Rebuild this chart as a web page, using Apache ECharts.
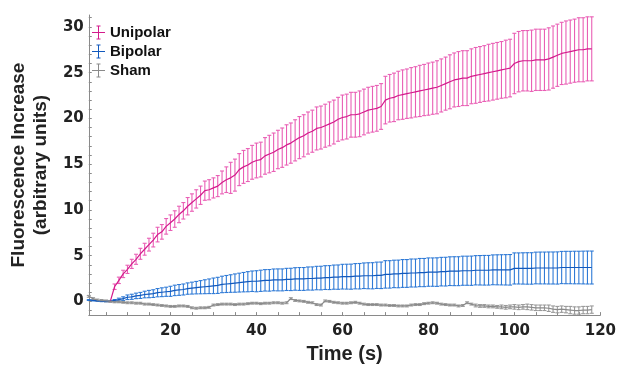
<!DOCTYPE html>
<html>
<head>
<meta charset="utf-8">
<script src="https://cdn.jsdelivr.net/npm/echarts@6/dist/echarts.min.js"></script>
<style>
  html, body { margin: 0; padding: 0; background: #fff; }
  #chart { width: 619px; height: 369px; }
</style>
</head>
<body>
<div id="chart"></div>
<script>
// sample times (s), one sample per second
const time = Array.from({ length: 118 }, (_, i) => i + 1);

// Unipolar: recording starts at t = 6 s
const unipolarMean = [
  null, null, null, null, null, 0.0, 1.6, 2.3, 3.0, 3.5,
  4.1, 4.6, 5.2, 5.7, 6.2, 6.7, 7.3, 7.6, 8.2, 8.6,
  9.0, 9.5, 9.9, 10.4, 10.8, 11.2, 11.6, 12.1, 12.2, 12.4,
  12.6, 13.0, 13.3, 13.5, 13.8, 14.4, 14.7, 14.9, 15.2, 15.4,
  15.5, 15.9, 16.1, 16.3, 16.6, 16.8, 17.1, 17.3, 17.6, 17.9,
  18.1, 18.4, 18.6, 18.9, 19.0, 19.2, 19.4, 19.6, 19.9, 20.1,
  20.2, 20.4, 20.4, 20.5, 20.7, 20.9, 21.0, 21.1, 21.3, 22.0,
  22.2, 22.3, 22.5, 22.6, 22.7, 22.8, 22.9, 23.0, 23.1, 23.2,
  23.3, 23.4, 23.6, 23.8, 24.0, 24.2, 24.3, 24.4, 24.4, 24.6,
  24.7, 24.8, 24.9, 25.0, 25.1, 25.2, 25.3, 25.4, 25.5, 26.0,
  26.2, 26.3, 26.3, 26.3, 26.4, 26.4, 26.4, 26.5, 26.7, 26.9,
  27.1, 27.2, 27.3, 27.4, 27.5, 27.5, 27.6, 27.6
];
const unipolarErr = [
  null, null, null, null, null, 0.05, 0.3, 0.35, 0.4, 0.45,
  0.5, 0.55, 0.6, 0.65, 0.7, 0.75, 0.8, 0.8, 0.85, 0.85,
  0.9, 0.9, 0.9, 0.95, 0.95, 1.0, 1.0, 1.05, 1.1, 1.1,
  1.15, 1.25, 1.4, 1.7, 1.75, 1.75, 1.8, 1.8, 1.85, 1.9,
  1.9, 2.0, 2.05, 2.1, 2.1, 2.15, 2.2, 2.2, 2.25, 2.3,
  2.3, 2.3, 2.3, 2.35, 2.35, 2.35, 2.4, 2.4, 2.4, 2.45,
  2.45, 2.45, 2.45, 2.5, 2.5, 2.5, 2.5, 2.5, 2.5, 2.6,
  2.6, 2.65, 2.65, 2.7, 2.7, 2.75, 2.75, 2.8, 2.8, 2.85,
  2.85, 2.9, 2.9, 2.9, 2.95, 2.95, 3.0, 3.0, 3.0, 3.0,
  3.05, 3.05, 3.05, 3.1, 3.1, 3.1, 3.1, 3.15, 3.15, 3.3,
  3.3, 3.3, 3.3, 3.35, 3.35, 3.35, 3.35, 3.4, 3.4, 3.4,
  3.4, 3.45, 3.45, 3.45, 3.5, 3.5, 3.5, 3.5
];

const bipolarMean = [
  0.15, 0.1, 0.05, 0.02, 0.0, 0.0, 0.1, 0.2, 0.3, 0.45,
  0.5, 0.6, 0.65, 0.75, 0.8, 0.85, 0.95, 1.0, 1.05, 1.1,
  1.2, 1.25, 1.3, 1.4, 1.45, 1.5, 1.55, 1.6, 1.65, 1.7,
  1.75, 1.85, 1.9, 1.95, 2.0, 2.05, 2.1, 2.15, 2.2, 2.2,
  2.25, 2.3, 2.3, 2.35, 2.35, 2.35, 2.4, 2.4, 2.45, 2.45,
  2.45, 2.5, 2.5, 2.55, 2.55, 2.6, 2.6, 2.65, 2.65, 2.7,
  2.7, 2.7, 2.75, 2.75, 2.8, 2.8, 2.8, 2.85, 2.85, 2.95,
  2.95, 3.0, 3.0, 3.05, 3.05, 3.1, 3.1, 3.15, 3.15, 3.2,
  3.2, 3.2, 3.25, 3.25, 3.3, 3.3, 3.3, 3.35, 3.35, 3.35,
  3.4, 3.4, 3.4, 3.4, 3.45, 3.45, 3.45, 3.45, 3.45, 3.6,
  3.6, 3.6, 3.6, 3.6, 3.65, 3.65, 3.65, 3.65, 3.65, 3.65,
  3.7, 3.7, 3.7, 3.7, 3.7, 3.7, 3.7, 3.7
];
const bipolarErr = [
  0.05, 0.05, 0.05, 0.05, 0.05, 0.05, 0.1, 0.15, 0.2, 0.25,
  0.28, 0.3, 0.33, 0.36, 0.4, 0.42, 0.45, 0.48, 0.5, 0.55,
  0.57, 0.59, 0.6, 0.62, 0.65, 0.68, 0.72, 0.76, 0.8, 0.85,
  0.88, 0.9, 0.93, 0.96, 1.0, 1.03, 1.06, 1.1, 1.12, 1.15,
  1.16, 1.17, 1.18, 1.19, 1.2, 1.2, 1.21, 1.22, 1.23, 1.25,
  1.25, 1.26, 1.27, 1.28, 1.29, 1.3, 1.31, 1.32, 1.33, 1.35,
  1.36, 1.37, 1.38, 1.39, 1.4, 1.42, 1.43, 1.44, 1.45, 1.5,
  1.5, 1.5, 1.51, 1.52, 1.52, 1.53, 1.53, 1.54, 1.54, 1.55,
  1.55, 1.56, 1.56, 1.57, 1.57, 1.58, 1.58, 1.59, 1.59, 1.6,
  1.6, 1.61, 1.62, 1.62, 1.63, 1.64, 1.65, 1.66, 1.67, 1.7,
  1.7, 1.71, 1.72, 1.72, 1.73, 1.74, 1.74, 1.75, 1.75, 1.76,
  1.76, 1.77, 1.77, 1.78, 1.78, 1.79, 1.8, 1.8
];

const shamMean = [
  0.55, 0.3, 0.15, 0.1, 0.05, 0.0, -0.05, -0.05, -0.1, -0.15,
  -0.15, -0.2, -0.2, -0.3, -0.3, -0.35, -0.4, -0.45, -0.5, -0.55,
  -0.55, -0.5, -0.5, -0.55, -0.7, -0.75, -0.7, -0.7, -0.65, -0.4,
  -0.35, -0.3, -0.3, -0.3, -0.35, -0.3, -0.3, -0.25, -0.2, -0.2,
  -0.25, -0.2, -0.2, -0.15, -0.15, -0.2, -0.15, 0.3, 0.1, 0.05,
  0.0, -0.1, -0.15, -0.35, -0.4, 0.05, 0.0, -0.1, -0.15, -0.2,
  -0.2, -0.15, -0.1, -0.2, -0.3, -0.35, -0.35, -0.35, -0.4, -0.4,
  -0.45, -0.45, -0.5, -0.5, -0.5, -0.4, -0.35, -0.35, -0.25, -0.2,
  -0.15, -0.2, -0.3, -0.35, -0.4, -0.4, -0.5, -0.45, -0.15, -0.3,
  -0.45, -0.5, -0.5, -0.55, -0.55, -0.6, -0.6, -0.65, -0.6, -0.6,
  -0.65, -0.6, -0.6, -0.65, -0.7, -0.7, -0.7, -0.75, -0.85, -0.9,
  -0.85, -0.9, -0.95, -1.0, -1.0, -0.95, -0.95, -0.9
];
const shamErr = [
  0.1, 0.1, 0.1, 0.1, 0.1, 0.1, 0.1, 0.1, 0.1, 0.1,
  0.1, 0.1, 0.1, 0.1, 0.1, 0.1, 0.1, 0.1, 0.1, 0.1,
  0.1, 0.1, 0.1, 0.1, 0.1, 0.1, 0.1, 0.1, 0.1, 0.1,
  0.1, 0.1, 0.1, 0.1, 0.1, 0.1, 0.1, 0.1, 0.1, 0.1,
  0.1, 0.1, 0.1, 0.1, 0.1, 0.1, 0.1, 0.1, 0.1, 0.1,
  0.1, 0.1, 0.1, 0.1, 0.1, 0.1, 0.1, 0.1, 0.1, 0.1,
  0.1, 0.1, 0.1, 0.1, 0.1, 0.1, 0.1, 0.1, 0.1, 0.1,
  0.1, 0.1, 0.1, 0.1, 0.1, 0.1, 0.1, 0.1, 0.1, 0.1,
  0.1, 0.1, 0.1, 0.1, 0.1, 0.1, 0.1, 0.1, 0.1, 0.1,
  0.15, 0.15, 0.15, 0.15, 0.15, 0.15, 0.2, 0.2, 0.2, 0.25,
  0.25, 0.25, 0.3, 0.3, 0.3, 0.3, 0.3, 0.35, 0.35, 0.35,
  0.35, 0.35, 0.4, 0.4, 0.4, 0.4, 0.4, 0.4
];

const xTicks = [5, 10, 15, 20, 25, 30, 35, 40, 45, 50, 55, 60, 65, 70, 75, 80, 85, 90, 95, 100, 105, 110, 115, 120];
const xLabels = [20, 40, 60, 80, 100, 120];
const yTicks = [-1, 0, 1, 2, 3, 4, 5, 6, 7, 8, 9, 10, 11, 12, 13, 14, 15, 16, 17, 18, 19, 20, 21, 22, 23, 24, 25, 26, 27, 28, 29, 30, 31];
const yLabels = [0, 5, 10, 15, 20, 25, 30];

const groups = [
  { name: "Unipolar", mean: unipolarMean, err: unipolarErr, line: "#d41a8c", bar: "#e95fb5" },
  { name: "Bipolar", mean: bipolarMean, err: bipolarErr, line: "#1259bd", bar: "#2f7ad6" },
  { name: "Sham", mean: shamMean, err: shamErr, line: "#8a8a8a", bar: "#999999" },
];

const legendIcon = "path://M0,6.5h13v1h-13z M6,0h1v14h-1z M4.5,0h4v1h-4z M4.5,13h4v1h-4z";

const font = "'Liberation Sans', Arial, sans-serif";
const numFont = "'DejaVu Sans', sans-serif";
const axisColor = "#8a8a8a";

const chart = echarts.init(document.getElementById("chart"), null, { renderer: "canvas" });

const series = [];
groups.forEach((g) => {
  const bars = [];
  const pts = [];
  time.forEach((t, i) => {
    if (g.mean[i] == null) return;
    pts.push([t, g.mean[i]]);
    bars.push([t, g.mean[i] - g.err[i], g.mean[i] + g.err[i]]);
  });
  series.push({
    type: "custom",
    name: g.name + " error",
    data: bars,
    encode: { x: 0, y: [1, 2] },
    z: 2,
    silent: true,
    renderItem: (params, api) => {
      const lo = api.coord([api.value(0), api.value(1)]);
      const hi = api.coord([api.value(0), api.value(2)]);
      const w = 2;
      const style = { stroke: g.bar, lineWidth: 1.1 };
      return {
        type: "group",
        children: [
          { type: "line", shape: { x1: lo[0], y1: lo[1], x2: hi[0], y2: hi[1] }, style },
          { type: "line", shape: { x1: lo[0] - w, y1: lo[1], x2: lo[0] + w, y2: lo[1] }, style },
          { type: "line", shape: { x1: hi[0] - w, y1: hi[1], x2: hi[0] + w, y2: hi[1] }, style },
        ],
      };
    },
  });
  series.push({
    type: "line",
    name: g.name,
    data: pts,
    showSymbol: false,
    z: 3,
    itemStyle: { color: g.line },
    lineStyle: { color: g.line, width: 1.2 },
  });
});

const option = {
  animation: false,
  backgroundColor: "#fff",
  grid: { left: 80, right: 12, top: 15, bottom: 47 },
  legend: {
    data: groups.map((g) => ({ name: g.name, icon: legendIcon, itemStyle: { color: g.line } })),
    orient: "vertical",
    left: 87,
    top: 20,
    itemWidth: 13,
    itemHeight: 14,
    itemGap: 4,
    textStyle: { fontFamily: font, fontSize: 15, fontWeight: "bold", color: "#111" },
  },
  xAxis: {
    type: "value",
    min: 1,
    max: 120,
    name: "Time (s)",
    nameLocation: "middle",
    nameGap: 26,
    nameTextStyle: { fontFamily: font, fontSize: 20, fontWeight: "bold", color: "#222" },
    axisLine: { show: true, onZero: false, lineStyle: { color: axisColor, width: 1 } },
    axisTick: { show: true, inside: true, length: 3, customValues: xTicks, lineStyle: { color: axisColor } },
    axisLabel: { customValues: xLabels, fontFamily: numFont, fontSize: 15, fontWeight: "bold", color: "#222", margin: 9 },
    splitLine: { show: false },
  },
  yAxis: {
    type: "value",
    min: -1.5,
    max: 31.3,
    name: "Fluorescence Increase\n(arbitrary units)",
    nameLocation: "middle",
    nameRotate: 90,
    nameGap: 23,
    nameTextStyle: { fontFamily: font, fontSize: 19, fontWeight: "bold", color: "#222", lineHeight: 22 },
    axisLine: { show: true, onZero: false, lineStyle: { color: axisColor, width: 1 } },
    axisTick: { show: true, inside: true, length: 3, customValues: yTicks, lineStyle: { color: axisColor } },
    axisLabel: { customValues: yLabels, fontFamily: numFont, fontSize: 15, fontWeight: "bold", color: "#222", margin: 5 },
    splitLine: { show: false },
  },
  series: series,
};

chart.setOption(option);
</script>
</body>
</html>
